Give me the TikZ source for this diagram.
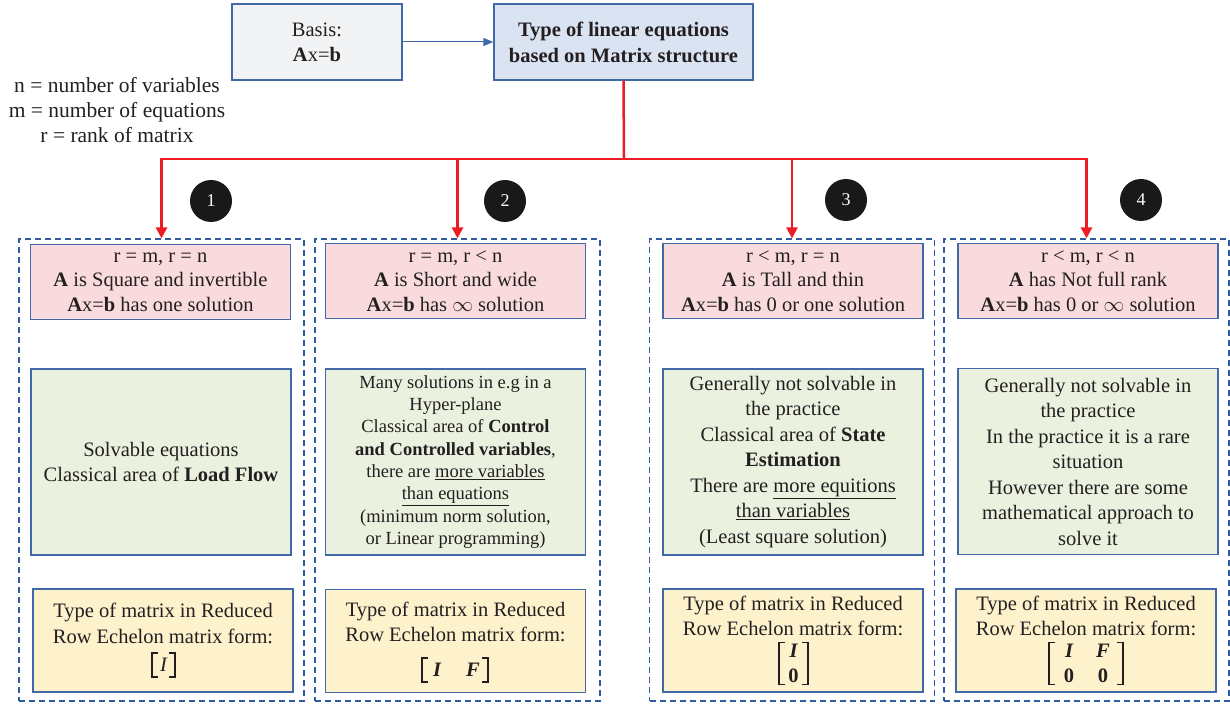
\documentclass[tikz,border=0pt]{standalone}
\usepackage{fontspec}
\setmainfont{Liberation Serif}
\usetikzlibrary{arrows.meta}
\definecolor{bordblue}{HTML}{4169A8}
\definecolor{dashblue}{HTML}{2F5C9E}
\definecolor{pinkf}{HTML}{FADBDD}
\definecolor{greenf}{HTML}{EAF2DF}
\definecolor{yellowf}{HTML}{FEF2CC}
\definecolor{grayf}{HTML}{F2F3F5}
\definecolor{titlef}{HTML}{DAE3F2}
\definecolor{redc}{HTML}{EC1C24}
\definecolor{txt}{HTML}{231F20}
\newcommand{\cell}[1]{\makebox[14pt]{#1}}
\newcommand{\mbrackets}[1]{%
  \draw[brk] ([xshift=5pt]#1.north west) -- (#1.north west) -- (#1.south west) -- ([xshift=5pt]#1.south west);
  \draw[brk] ([xshift=-5pt]#1.north east) -- (#1.north east) -- (#1.south east) -- ([xshift=-5pt]#1.south east);}
\begin{document}
\begin{tikzpicture}[x=1pt,y=-1pt,
  box/.style={draw=bordblue, line width=1.3pt, align=center, inner sep=2pt, text=txt,
    font=\fontsize{20.5}{24.5}\selectfont},
  pinkbox/.style={box, fill=pinkf, minimum width=260pt, minimum height=75pt},
  greenbox/.style={box, fill=greenf, minimum width=260pt, minimum height=186pt},
  yellowbox/.style={box, fill=yellowf, minimum width=260pt, minimum height=103pt,
    font=\fontsize{20.5}{25.5}\selectfont},
  matx/.style={inner xsep=0pt, inner ysep=0pt, align=center, text=txt,
    font=\fontsize{20.5}{25}\selectfont\bfseries},
  brk/.style={draw=txt, line width=1.5pt, line cap=rect},
  dashbox/.style={draw=dashblue, dash pattern=on 6pt off 4pt, line width=1.2pt,
    minimum width=285pt, minimum height=462pt, inner sep=0pt},
  numc/.style={circle, fill=black!90, text=white, minimum size=42pt, inner sep=0pt,
    font=\fontsize{18}{18}\selectfont},
  redarrow/.style={draw=redc, line width=2.5pt, -{Triangle[length=11pt,width=11pt]}},
  bluearrow/.style={draw=bordblue, line width=1pt, -{Triangle[length=10pt,width=8pt]}}
]
\useasboundingbox (0,0) rectangle (1230,708);

% top
\node[box, fill=grayf, minimum width=170pt, minimum height=76pt,
  font=\fontsize{20.5}{25}\selectfont] (basis) at (317,42) {Basis:\\\textbf{A}x=\textbf{b}};
\node[box, fill=titlef, minimum width=259pt, minimum height=76pt,
  font=\fontsize{20.5}{26}\selectfont\bfseries] (title) at (623.5,42)
  {Type of linear equations\\based on Matrix structure};
\draw[bluearrow] (basis) -- (title);

\node[align=center, text=txt, font=\fontsize{21.5}{25}\selectfont] (legend) at (117,110)
  {n = number of variables\\m = number of equations\\r = rank of matrix};

% dashed containers
\node[dashbox] (d1) at (161.5,470) {};
\node[dashbox] (d2) at (457.5,470) {};
\node[dashbox] (d3) at (792,470) {};
\node[dashbox] (d4) at (1086.5,470) {};

% numbers
\node[numc] (n1) at (211,201) {1};
\node[numc] (n2) at (505,201) {2};
\node[numc] (n3) at (846,200) {3};
\node[numc] (n4) at (1141,200) {4};

% red connectors
\coordinate (hub) at (624,159);
\draw[draw=redc, line width=2.5pt] (title.south) -- (hub);
\draw[redarrow] (hub) -| (d1.north);
\draw[redarrow] (hub) -| (d2.north);
\draw[redarrow] (hub) -| (d3.north);
\draw[redarrow] (hub) -| (d4.north);

% column 1
\node[pinkbox] (p1) at (160.5,282)
  {r = m, r = n\\\textbf{A} is Square and invertible\\\textbf{A}x=\textbf{b} has one solution};
\node[greenbox] (g1) at (161,462)
  {Solvable equations\\Classical area of \textbf{Load Flow}};
\node[yellowbox] (y1) at (163,640.5)
  {Type of matrix in Reduced\\Row Echelon matrix form:\\\rule{0pt}{33pt}};
\node[matx, font=\fontsize{20.5}{25}\selectfont\itshape, minimum width=23pt, minimum height=24pt]
  (m1) at (163.5,665) {I};
\mbrackets{m1}

% column 2
\node[pinkbox] (p2) at (455.5,281)
  {r = m, r < n\\\textbf{A} is Short and wide\\\textbf{A}x=\textbf{b} has $\infty$ solution};
\node[greenbox, font=\fontsize{18.5}{22.3}\selectfont] (g2) at (455.5,462)
  {Many solutions in e.g in a\\Hyper-plane\\Classical area of \textbf{Control}\\
   \textbf{and Controlled variables},\\there are \underline{more variables}\\
   \underline{than equations}\\(minimum norm solution,\\or Linear programming)};
\node[yellowbox] (y2) at (455.5,641)
  {Type of matrix in Reduced\\Row Echelon matrix form:\\\rule{0pt}{37pt}};
\node[matx, font=\fontsize{20.5}{25}\selectfont\bfseries\itshape, minimum width=66pt, minimum height=24pt]
  (m2) at (455,670) {\cell{I}\hspace{22pt}\cell{F}};
\mbrackets{m2}

% column 3
\node[pinkbox] (p3) at (793,281)
  {r < m, r = n\\\textbf{A} is Tall and thin\\\textbf{A}x=\textbf{b} has 0 or one solution};
\node[greenbox, font=\fontsize{20.5}{25.5}\selectfont] (g3) at (793,462)
  {Generally not solvable in\\the practice\\Classical area of \textbf{State}\\
   \textbf{Estimation}\\There are \underline{more equitions}\\\underline{than variables}\\
   (Least square solution)};
\node[yellowbox, font=\fontsize{20.5}{25}\selectfont] (y3) at (793,640.5)
  {Type of matrix in Reduced\\Row Echelon matrix form:\\\rule{0pt}{49pt}};
\node[matx, minimum width=29pt, minimum height=42pt]
  (m3) at (793.5,663.5) {\itshape I\\0};
\mbrackets{m3}

% column 4
\node[pinkbox] (p4) at (1088,281)
  {r < m, r < n\\\textbf{A} has Not full rank\\\textbf{A}x=\textbf{b} has 0 or $\infty$ solution};
\node[greenbox, font=\fontsize{20.5}{25.5}\selectfont] (g4) at (1088,461.5)
  {Generally not solvable in\\the practice\\In the practice it is a rare\\situation\\
   However there are some\\mathematical approach to\\solve it};
\node[yellowbox, font=\fontsize{20.5}{25}\selectfont] (y4) at (1086,640.5)
  {Type of matrix in Reduced\\Row Echelon matrix form:\\\rule{0pt}{49pt}};
\node[matx, minimum width=74pt, minimum height=42pt]
  (m4) at (1086,663.5) {\cell{\itshape I}\hspace{20pt}\cell{\itshape F}\\\cell{0}\hspace{20pt}\cell{0}};
\mbrackets{m4}
\end{tikzpicture}
\end{document}
